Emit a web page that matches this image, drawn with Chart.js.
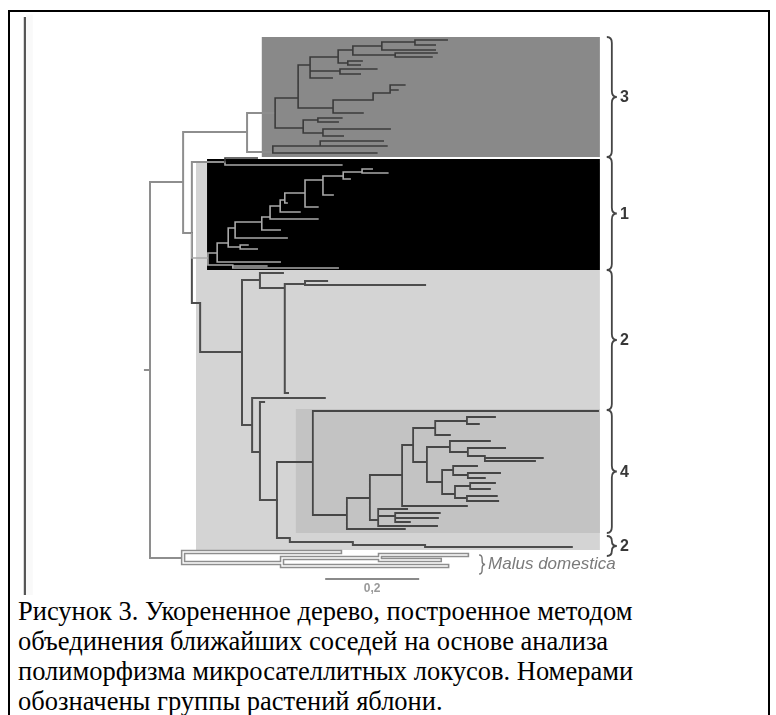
<!DOCTYPE html>
<html>
<head>
<meta charset="utf-8">
<script src="https://cdn.jsdelivr.net/npm/chart.js@4.4.1/dist/chart.umd.min.js"></script>
<style>
  html, body { margin: 0; padding: 0; background: #fff; }
  #page { position: relative; width: 776px; height: 715px; overflow: hidden; }
  #frame { position: absolute; left: 8px; top: 10px; width: 758px; height: 720px;
           border: 2px solid #000; border-bottom: none; }
  #tree { position: absolute; left: 0; top: 0; }
  #caption { position: absolute; left: 18px; top: 596px; color: #000; white-space: nowrap;
             font-family: "Liberation Serif", "Times New Roman", serif; font-size: 26.5px; line-height: 30px; }
</style>
</head>
<body>
<div id="page">
  <div id="frame"></div>
  <canvas id="tree" width="776" height="595"></canvas>
  <div id="caption">Рисунок 3. Укорененное дерево, построенное методом<br>объединения ближайших соседей на основе анализа<br>полиморфизма микросателлитных локусов. Номерами<br>обозначены группы растений яблони.</div>
</div>
<script>
// Tree nodes: [id, parent id, distance from root, vertical row position]
const rootNodes = [
  ['r', null, -0.011, 370],
  ['R0', 'r', 0.000, 370],
  ['R1', 'R0', 0.072, 182],
  ['R2', 'R1', 0.211, 132],
  ['R3', 'R1', 0.091, 233],
  ['C3a', 'R2', 0.272, 113],
  ['C3b', 'R2', 0.267, 152],
  ['T1', 'R3', 0.163, 162],
  ['M0', 'R0', 0.072, 558]
];

const clade3Nodes = [
  ['P', 'C3a', 0.322, 98], ['Q', 'P', 0.348, 65], ['S', 'Q', 0.409, 57],
  ['U', 'S', 0.441, 50], ['V', 'U', 0.504, 46], ['W', 'V', 0.576, 42],
  ['w1', 'W', 0.646, 40], ['w2', 'W', 0.620, 45], ['v1', 'V', 0.620, 50],
  ['X', 'U', 0.533, 55], ['x1', 'X', 0.624, 53], ['x2', 'X', 0.613, 57],
  ['Y', 'S', 0.430, 63], ['y1', 'Y', 0.461, 61], ['y2', 'Y', 0.457, 65],
  ['Z', 'Q', 0.413, 71], ['z1', 'Z', 0.493, 69], ['z2', 'Z', 0.457, 74],
  ['q1', 'Q', 0.396, 78],
  ['AA', 'P', 0.398, 108], ['AB', 'AA', 0.485, 100], ['AC', 'AB', 0.522, 93],
  ['ac1', 'AC', 0.554, 85], ['ac2', 'AC', 0.539, 90], ['aa1', 'AA', 0.463, 113],
  ['AD', 'C3a', 0.333, 128], ['AE', 'AD', 0.365, 120], ['ae1', 'AE', 0.417, 118],
  ['ae2', 'AE', 0.409, 122], ['AF', 'AD', 0.376, 133], ['af1', 'AF', 0.522, 129],
  ['af2', 'AF', 0.420, 136],
  ['AG', 'C3b', 0.370, 146], ['ag1', 'AG', 0.507, 141], ['ag2', 'AG', 0.515, 146],
  ['cb1', 'C3b', 0.493, 153],
  ['t1a', 'T1', 0.233, 158]
];

const clade1Nodes = [
  ['G1', 'R3', 0.126, 258], ['G1a', 'G1', 0.146, 253], ['G1b', 'G1a', 0.170, 243],
  ['G1c', 'G1b', 0.185, 228], ['G1d', 'G1c', 0.243, 222], ['G1e', 'G1d', 0.261, 217],
  ['G1f', 'G1e', 0.283, 206], ['G1g', 'G1f', 0.293, 200], ['G1h', 'G1g', 0.337, 193],
  ['G1i', 'G1h', 0.376, 180], ['G1j', 'G1i', 0.420, 176], ['G1k', 'G1j', 0.461, 172],
  ['k1', 'G1k', 0.517, 173], ['k2', 'G1k', 0.483, 169], ['j1', 'G1j', 0.435, 179],
  ['i1', 'G1i', 0.398, 195], ['h1', 'G1h', 0.365, 207], ['g1', 'G1g', 0.298, 203],
  ['f1', 'G1f', 0.326, 212], ['e1', 'G1e', 0.365, 219], ['d1', 'G1d', 0.283, 230],
  ['c1', 'G1c', 0.298, 238], ['G1l', 'G1b', 0.196, 247], ['l1', 'G1l', 0.213, 245],
  ['l2', 'G1l', 0.233, 249], ['a1', 'G1a', 0.283, 262], ['G1m', 'G1', 0.180, 265],
  ['m1', 'G1m', 0.254, 266], ['m2', 'G1m', 0.409, 268],
  ['t1b', 'T1', 0.417, 165]
];

const clade2Nodes = [
  ['R4', 'R3', 0.109, 303], ['A', 'R4', 0.200, 352], ['B', 'A', 0.239, 280],
  ['b1', 'B', 0.289, 273], ['C', 'B', 0.293, 288], ['Cn', 'C', 0.337, 284],
  ['cn1', 'Cn', 0.385, 281], ['cn2', 'Cn', 0.598, 285], ['c2', 'C', 0.300, 393],
  ['N1', 'A', 0.222, 425], ['n1a', 'N1', 0.380, 398], ['N2', 'N1', 0.239, 452],
  ['n2a', 'N2', 0.248, 402], ['N3', 'N2', 0.276, 500],
  ['N9', 'N3', 0.304, 538], ['N10', 'N9', 0.441, 542], ['N11', 'N10', 0.598, 545],
  ['n11', 'N11', 0.917, 547]
];

const clade4Nodes = [
  ['N4', 'N3', 0.354, 462], ['n4a', 'N4', 0.974, 411], ['N5', 'N4', 0.428, 515],
  ['N6', 'N5', 0.478, 498], ['n5a', 'N5', 0.554, 529], ['N7', 'N6', 0.548, 475],
  ['N8', 'N6', 0.496, 520], ['N7a', 'N7', 0.572, 445], ['n7a', 'N7', 0.689, 506],
  ['N7b', 'N7a', 0.620, 428], ['N7c', 'N7a', 0.602, 462], ['N7e', 'N7b', 0.689, 421],
  ['e7a', 'N7e', 0.750, 417], ['e7b', 'N7e', 0.715, 424], ['b7a', 'N7b', 0.652, 435],
  ['N7f', 'N7c', 0.652, 447], ['f7a', 'N7f', 0.739, 441], ['N7h', 'N7f', 0.691, 452],
  ['h7a', 'N7h', 0.772, 448], ['N7i', 'N7h', 0.728, 456], ['i7a', 'N7i', 0.854, 458],
  ['i7b', 'N7i', 0.837, 461], ['N7g', 'N7c', 0.635, 482], ['N7j', 'N7g', 0.659, 470],
  ['j7a', 'N7j', 0.711, 466], ['N7l', 'N7j', 0.691, 475], ['l7a', 'N7l', 0.761, 473],
  ['l7b', 'N7l', 0.728, 478], ['N7k', 'N7g', 0.663, 494], ['N7m', 'N7k', 0.696, 486],
  ['m7a', 'N7m', 0.750, 483], ['m7b', 'N7m', 0.739, 489], ['N7n', 'N7k', 0.689, 498],
  ['n7b', 'N7n', 0.754, 496], ['n7c', 'N7n', 0.757, 501],
  ['n8a', 'N8', 0.559, 509], ['N8a', 'N8', 0.533, 516], ['a8a', 'N8a', 0.630, 513],
  ['a8b', 'N8a', 0.626, 518], ['a8c', 'N8a', 0.565, 522], ['n8b', 'N8', 0.624, 526]
];

const malusNodes = [
  ['m0a', 'M0', 0.413, 552], ['M1', 'M0', 0.287, 563], ['M2', 'M1', 0.500, 558],
  ['m2a', 'M2', 0.689, 555], ['m2b', 'M2', 0.630, 560], ['m1a', 'M1', 0.646, 566]
];

// Shaded clade blocks: distance span and row span
const blockNames   = ['2', '1', '3', '4'];
const blockFrom    = [0.100, 0.124, 0.243, 0.317];
const blockTo      = [0.978, 0.978, 0.978, 0.978];
const blockTop     = [163, 159, 37, 409];
const blockBottom  = [550, 270, 157, 533];

// Group brackets on the right
const groupLabels  = ['3', '1', '2', '4', '2'];
const groupTop     = [37, 157, 270, 410, 536];
const groupBottom  = [157, 270, 410, 533, 556];
const outgroupName = 'Malus domestica';
const outgroupSpan = [555, 574];

// Distance scale bar
const scaleBarStart = 0.383;
const scaleBarLength = 0.2;
const scaleBarLabel = '0,2';

// ---- drawing ----
const nodeIndex = {};
[rootNodes, clade3Nodes, clade1Nodes, clade2Nodes, clade4Nodes, malusNodes]
  .forEach(list => list.forEach(n => { nodeIndex[n[0]] = n; }));

function branchPath(list) {
  const pts = [];
  list.forEach(([id, parent, x, y]) => {
    const p = nodeIndex[parent];
    if (!p) return;
    pts.push({x: p[2], y: p[3]}, {x: p[2], y: y}, {x: x, y: y}, {x: x, y: null});
  });
  return pts;
}

function blockPath(i) {
  const l = blockFrom[i], r = blockTo[i], t = blockTop[i], b = blockBottom[i];
  return [{x: l, y: t}, {x: r, y: t}, {x: r, y: b}, {x: l, y: b}, {x: l, y: t}];
}

const blockColours = ['#d4d4d4', '#000000', '#898989', '#c3c3c3'];

function lineSet(label, data, colour, width, order) {
  return { label, data, showLine: true, borderColor: colour, borderWidth: width,
           pointRadius: 0, fill: false, order, borderJoinStyle: 'miter',
           borderCapStyle: 'square', spanGaps: false, clip: false };
}

const datasets = [];
blockNames.forEach((name, i) => {
  datasets.push({ label: 'group ' + name, data: blockPath(i), showLine: true,
    borderWidth: 0, borderColor: 'rgba(0,0,0,0)', backgroundColor: blockColours[i],
    fill: 'shape', pointRadius: 0, order: 20 - i, clip: false });
});
datasets.push(lineSet('rule', [{x: -0.272, y: 18}, {x: -0.272, y: 596}], '#555555', 2.2, 9));
datasets.push(lineSet('rule halo', [{x: -0.262, y: 18}, {x: -0.262, y: 596}], 'rgba(0,0,0,0.025)', 7, 10));
datasets.push(lineSet('root', branchPath(rootNodes), '#8e8e8e', 2, 5));
datasets.push(lineSet('clade 3', branchPath(clade3Nodes), '#3b3b3b', 1.6, 4));
datasets.push(lineSet('clade 1', branchPath(clade1Nodes), '#a9a9a9', 1.6, 4));
datasets.push(lineSet('clade 2', branchPath(clade2Nodes), '#4d4d4d', 2, 4));
datasets.push(lineSet('clade 4', branchPath(clade4Nodes), '#464646', 1.8, 4));
datasets.push(lineSet('malus outline', branchPath(malusNodes), '#8e8e8e', 4.5, 3));
datasets.push(lineSet('malus core', branchPath(malusNodes), '#ffffff', 1.4, 2));
datasets.push(lineSet('scale', [{x: scaleBarStart, y: 579}, {x: scaleBarStart + scaleBarLength, y: 579}], '#8a8a8a', 2, 1));

function brace(ctx, x, y1, y2, w, r) {
  const ym = (y1 + y2) / 2;
  ctx.beginPath();
  ctx.moveTo(x - w, y1);
  ctx.quadraticCurveTo(x, y1, x, y1 + r);
  ctx.lineTo(x, ym - r);
  ctx.quadraticCurveTo(x, ym, x + w, ym);
  ctx.quadraticCurveTo(x, ym, x, ym + r);
  ctx.lineTo(x, y2 - r);
  ctx.quadraticCurveTo(x, y2, x - w, y2);
  ctx.stroke();
}

const annotations = {
  id: 'annotations',
  afterDatasetsDraw(chart) {
    const ctx = chart.ctx, sx = chart.scales.x, sy = chart.scales.y;
    ctx.save();
    // group brackets and numbers
    ctx.strokeStyle = '#454545';
    ctx.lineWidth = 1.8;
    const bx = sx.getPixelForValue(1.004);
    groupLabels.forEach((lab, i) => {
      const y1 = sy.getPixelForValue(groupTop[i]), y2 = sy.getPixelForValue(groupBottom[i]);
      brace(ctx, bx, y1, y2, 5, Math.min(6, (y2 - y1) / 4));
      ctx.fillStyle = '#383838';
      ctx.font = 'bold 16px "Liberation Sans", Arial, sans-serif';
      ctx.textAlign = 'left';
      ctx.textBaseline = 'middle';
      ctx.fillText(lab, sx.getPixelForValue(1.022), (y1 + y2) / 2 + 1);
    });
    // outgroup bracket and name
    ctx.strokeStyle = '#777';
    ctx.lineWidth = 1.4;
    const oy1 = sy.getPixelForValue(outgroupSpan[0]), oy2 = sy.getPixelForValue(outgroupSpan[1]);
    brace(ctx, sx.getPixelForValue(0.722), oy1, oy2, 3, 4);
    ctx.fillStyle = '#7a7a7a';
    ctx.font = 'italic 17px "Liberation Sans", Arial, sans-serif';
    ctx.textAlign = 'left';
    ctx.textBaseline = 'middle';
    ctx.fillText(outgroupName, sx.getPixelForValue(0.735), (oy1 + oy2) / 2);
    // scale bar label
    ctx.fillStyle = '#9a9a9a';
    ctx.font = 'bold 12px "Liberation Sans", Arial, sans-serif';
    ctx.textAlign = 'center';
    ctx.fillText(scaleBarLabel, sx.getPixelForValue(scaleBarStart + scaleBarLength / 2), sy.getPixelForValue(589));
    ctx.restore();
  }
};

new Chart(document.getElementById('tree'), {
  type: 'scatter',
  data: { datasets },
  options: {
    responsive: false,
    animation: false,
    devicePixelRatio: 1,
    layout: { padding: 0 },
    plugins: { legend: { display: false }, tooltip: { enabled: false } },
    scales: {
      x: { type: 'linear', display: false, min: -150 / 460, max: 626 / 460 },
      y: { type: 'linear', display: false, min: 0, max: 595, reverse: true }
    }
  },
  plugins: [annotations]
});
</script>
</body>
</html>
